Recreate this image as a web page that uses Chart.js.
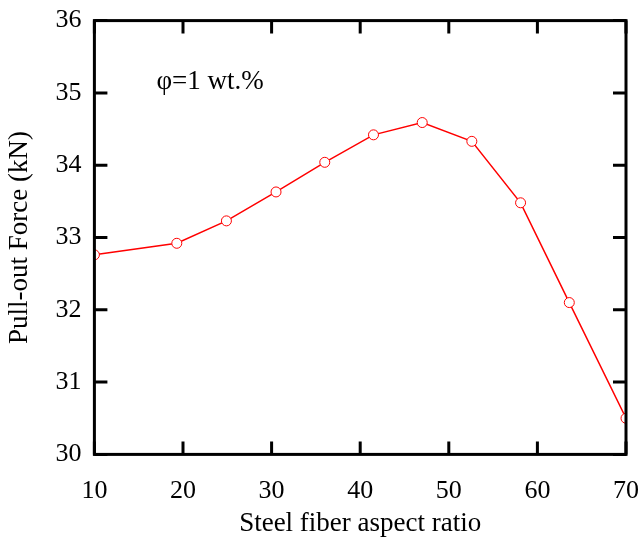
<!DOCTYPE html>
<html>
<head>
    <title>Pull-out force vs aspect ratio</title>
    <script src="https://cdn.jsdelivr.net/npm/chart.js"></script>
    <style>
        body {
            margin: 0;
            background-color: #ffffff;
        }
        canvas {
            display: block;
        }
    </style>
</head>
<body>
    <canvas id="pulloutChart" width="641" height="537"></canvas>

    <script>
        // Dane
        const aspectRatio = [10, 19.3, 24.9, 30.5, 36.0, 41.5, 47.0, 52.6, 58.1, 63.6, 70.0];
        const pulloutForce = [32.76, 32.92, 33.23, 33.63, 34.04, 34.42, 34.59, 34.33, 33.48, 32.10, 30.50];
        const xTicks = [10, 20, 30, 40, 50, 60, 70];
        const yTicks = [30, 31, 32, 33, 34, 35, 36];
        const noteText = 'φ=1 wt.%';

        const serif = '"Liberation Serif", "Times New Roman", serif';

        // Rama i ticki skierowane do środka
        const framePlugin = {
            id: 'frame',
            afterDraw(chart) {
                const { ctx, chartArea: a, scales: { x, y } } = chart;
                const len = 13;
                ctx.save();
                ctx.strokeStyle = '#000000';
                ctx.lineWidth = 3;
                ctx.strokeRect(a.left, a.top, a.right - a.left, a.bottom - a.top);
                ctx.beginPath();
                xTicks.forEach(v => {
                    const px = x.getPixelForValue(v);
                    ctx.moveTo(px, a.bottom);
                    ctx.lineTo(px, a.bottom - len);
                    ctx.moveTo(px, a.top);
                    ctx.lineTo(px, a.top + len);
                });
                yTicks.forEach(v => {
                    const py = y.getPixelForValue(v);
                    ctx.moveTo(a.left, py);
                    ctx.lineTo(a.left + len, py);
                    ctx.moveTo(a.right, py);
                    ctx.lineTo(a.right - len, py);
                });
                ctx.stroke();

                // Adnotacja
                ctx.fillStyle = '#000000';
                ctx.font = '27px ' + serif;
                ctx.textBaseline = 'middle';
                ctx.fillText(noteText, x.getPixelForValue(17.0), y.getPixelForValue(35.15));
                ctx.restore();
            }
        };

        const ctx = document.getElementById('pulloutChart').getContext('2d');
        const chart = new Chart(ctx, {
            type: 'line',
            data: {
                datasets: [{
                    data: aspectRatio.map((v, i) => ({ x: v, y: pulloutForce[i] })),
                    borderColor: '#ff0000',
                    borderWidth: 1.5,
                    pointRadius: 5,
                    pointBackgroundColor: '#ffffff',
                    pointBorderColor: '#ff0000',
                    pointBorderWidth: 1,
                    tension: 0,
                    fill: false
                }]
            },
            options: {
                responsive: false,
                animation: false,
                layout: {
                    padding: { top: 15, right: 15, bottom: 0, left: 4 }
                },
                plugins: {
                    legend: { display: false },
                    tooltip: { enabled: false }
                },
                scales: {
                    x: {
                        type: 'linear',
                        min: 10,
                        max: 70,
                        grid: { display: false },
                        border: { display: false },
                        afterFit: (scale) => { scale.paddingRight = 0; },
                        ticks: {
                            stepSize: 10,
                            color: '#000000',
                            padding: 13,
                            font: { family: serif, size: 26 }
                        },
                        title: {
                            display: true,
                            text: 'Steel fiber aspect ratio',
                            color: '#000000',
                            padding: { top: -12, bottom: -3 },
                            font: { family: serif, size: 27 }
                        }
                    },
                    y: {
                        min: 30,
                        max: 36,
                        grid: { display: false },
                        border: { display: false },
                        ticks: {
                            stepSize: 1,
                            color: '#000000',
                            padding: 5,
                            font: { family: serif, size: 26 }
                        },
                        title: {
                            display: true,
                            text: 'Pull-out Force (kN)',
                            color: '#000000',
                            padding: { top: 0, bottom: 14 },
                            font: { family: serif, size: 27 }
                        }
                    }
                }
            },
            plugins: [framePlugin]
        });
    </script>
</body>
</html>
